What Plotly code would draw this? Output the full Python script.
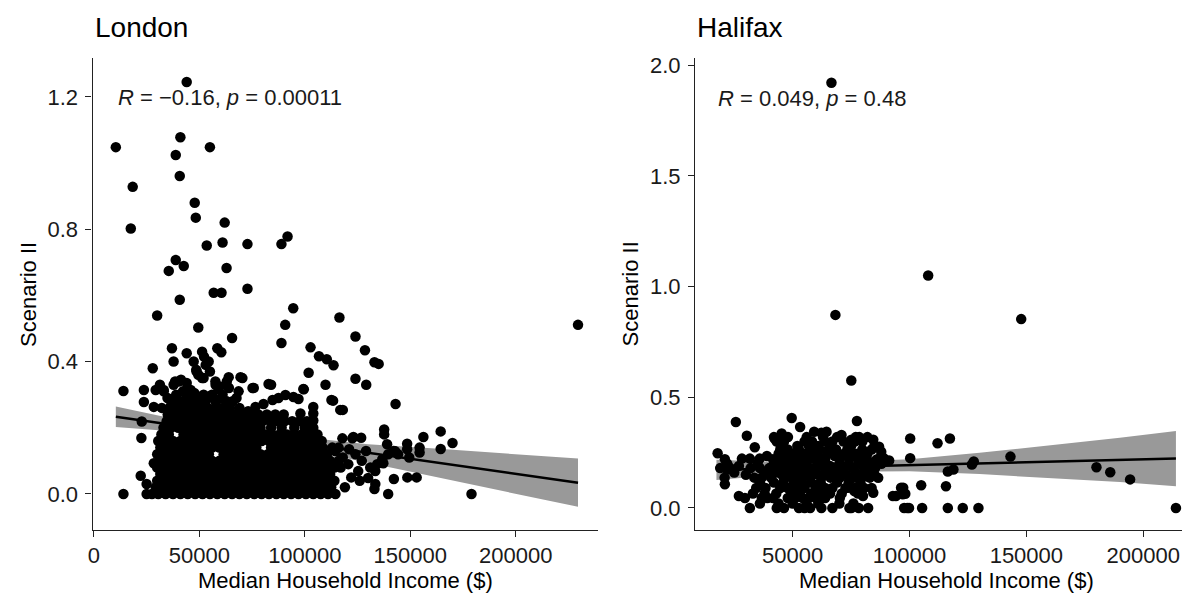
import plotly.graph_objects as go

W, H = 1182, 596

# ---------------- London data ----------------
# sparse / outlying points (income $, Scenario II)
lon_sparse = [
    (44000, 1.245), (10400, 1.048), (41000, 1.078), (55000, 1.048), (38800, 1.024), (40700, 0.961),
    (18400, 0.928), (47800, 0.880), (48300, 0.835), (62000, 0.820), (17500, 0.802), (53500, 0.751),
    (61000, 0.760), (72800, 0.755), (88900, 0.755), (91800, 0.778), (38800, 0.707), (42600, 0.689),
    (35500, 0.674), (62900, 0.683), (56800, 0.608), (60500, 0.608), (72800, 0.620), (40700, 0.587),
    (30000, 0.539), (94500, 0.561), (49500, 0.503), (90700, 0.511), (116400, 0.533), (229500, 0.511),
    (65500, 0.471), (88900, 0.456), (124000, 0.476), (102700, 0.443), (128500, 0.434), (106700, 0.416),
    (110400, 0.407), (113600, 0.389), (133000, 0.398), (135000, 0.393), (101800, 0.366), (124000, 0.348),
    (129100, 0.330), (109800, 0.330), (99500, 0.316), (84000, 0.330), (75800, 0.320), (70400, 0.350),
    (143000, 0.272), (113400, 0.282), (118000, 0.254), (14000, 0.311), (164400, 0.189), (156200, 0.172),
    (170000, 0.154), (164400, 0.136), (154400, 0.140), (154400, 0.125), (148500, 0.152), (148500, 0.135),
    (149500, 0.110), (142200, 0.130), (137600, 0.195), (137600, 0.180), (142200, 0.045), (148600, 0.050),
    (153000, 0.050), (139500, 0.0), (179000, 0.0), (133000, 0.015), (14000, 0.0), (22500, 0.169),
    (22200, 0.055), (23700, 0.278), (23700, 0.314), (22700, 0.219), (28400, 0.263), (25000, 0.030),
    (28400, 0.093),
]
# upper part of the main cloud
lon_upper = [
    (37000, 0.44), (44000, 0.425), (51300, 0.43), (52200, 0.415), (58500, 0.44), (60400, 0.428),
    (37800, 0.40), (47300, 0.40), (54400, 0.40), (27900, 0.38), (48700, 0.37), (52000, 0.35),
    (40200, 0.34), (37800, 0.33), (63900, 0.353), (69500, 0.353), (57700, 0.33), (59100, 0.317),
    (29300, 0.314), (33100, 0.314), (45900, 0.314), (68600, 0.31), (31300, 0.33), (33100, 0.31),
    (34900, 0.29), (36700, 0.27), (32200, 0.26), (38500, 0.34), (41300, 0.345), (44000, 0.335),
    (48500, 0.375), (49500, 0.36), (51300, 0.35), (53000, 0.39), (55000, 0.37), (57600, 0.34),
    (59500, 0.325), (63000, 0.34), (64000, 0.32), (42200, 0.31), (44000, 0.295), (47600, 0.305),
    (51300, 0.29), (54900, 0.295), (57600, 0.28), (60400, 0.29), (65800, 0.28), (67600, 0.29),
    (73100, 0.25), (76600, 0.263), (80400, 0.272), (84700, 0.284), (87500, 0.29), (90800, 0.299),
    (94600, 0.293), (97000, 0.287), (75200, 0.32), (82800, 0.332), (99300, 0.317), (104000, 0.263),
    (104000, 0.243), (104000, 0.222), (97900, 0.243), (112600, 0.284), (116800, 0.254),
]
# right-hand edge of the cloud
lon_right = [
    (117800, 0.168), (122500, 0.168), (114500, 0.129), (120600, 0.090), (125300, 0.069), (130000, 0.048),
    (133400, 0.030), (118000, 0.110), (121000, 0.135), (124000, 0.120), (127000, 0.100), (129000, 0.130),
    (131000, 0.080), (126000, 0.040), (122000, 0.050), (119000, 0.020), (116000, 0.140), (123000, 0.172),
    (126700, 0.170), (139000, 0.150), (142800, 0.129), (139500, 0.120), (144200, 0.120), (136700, 0.105),
    (134300, 0.090), (137200, 0.093), (133400, 0.069),
]
# dense core: rows of (Scenario II, incomes in $ thousands)
lon_core_rows = [
    (0.000, [25, 27.5, 30.5, 34, 37.5, 41, 44.5, 48, 51.5, 55, 58.5, 62, 65.5, 69, 72.5, 76, 79.5, 83, 86.5, 90, 93.5, 97, 100.5, 104, 107.5, 111, 114.5]),
    (0.020, [29.3, 32, 35.5, 39, 42.5, 46, 49.5, 53, 56.5, 60, 63.5, 67, 70.5, 74, 77.5, 81, 84.5, 88, 91.5, 95, 98.5, 102, 105.5, 109, 112.5]),
    (0.040, [30, 33.5, 37, 40.5, 44, 47.5, 51, 54.5, 58, 61.5, 65, 68.5, 72, 75.5, 79, 82.5, 86, 89.5, 93, 96.5, 100, 103.5, 107, 110.5, 114]),
    (0.060, [31.5, 35, 38.5, 42, 45.5, 49, 52.5, 56, 59.5, 63, 66.5, 70, 73.5, 77, 80.5, 84, 87.5, 91, 94.5, 98, 101.5, 105, 108.5, 112]),
    (0.080, [30, 33.5, 37, 40.5, 44, 47.5, 51, 54.5, 58, 61.5, 65, 68.5, 72, 75.5, 79, 82.5, 86, 89.5, 93, 96.5, 100, 103.5, 107, 110.5, 114, 117]),
    (0.100, [31.5, 35, 38.5, 42, 45.5, 49, 52.5, 56, 59.5, 63, 66.5, 70, 73.5, 77, 80.5, 84, 87.5, 91, 94.5, 98, 101.5, 105, 108.5, 112, 116]),
    (0.120, [30, 33.5, 37, 40.5, 44, 47.5, 51, 54.5, 61.5, 65, 68.5, 72, 75.5, 79, 82.5, 86, 89.5, 93, 96.5, 100, 103.5, 107, 110.5]),
    (0.140, [31.5, 35, 38.5, 42, 45.5, 49, 52.5, 56, 59.5, 63, 66.5, 70, 73.5, 77, 84, 87.5, 91, 94.5, 98, 101.5, 105, 108.5, 113]),
    (0.160, [30.5, 34, 37.5, 41, 44.5, 48, 51.5, 55, 58.5, 62, 65.5, 69, 72.5, 76, 79.5, 83, 86.5, 90, 93.5, 97, 100.5, 104, 108]),
    (0.180, [32, 35.5, 42.5, 46, 49.5, 53, 56.5, 60, 63.5, 67, 70.5, 74, 77.5, 81, 84.5, 88, 91.5, 95, 98.5, 102, 106]),
    (0.200, [33, 36.5, 40, 43.5, 47, 50.5, 54, 57.5, 61, 64.5, 68, 71.5, 75, 79, 84, 89, 95, 100, 104]),
    (0.220, [34.5, 38, 41.5, 45, 48.5, 52, 55.5, 59, 62.5, 66, 69.5, 73, 76.5, 80, 83.5, 87, 90.5, 94, 97.5, 101]),
    (0.240, [35, 38.5, 42, 45.5, 49, 52.5, 56, 59.5, 63, 66.5, 70, 74, 78, 82, 86, 90]),
    (0.260, [36, 40, 43.5, 47, 50.5, 54, 57.5, 61, 64.5, 69]),
    (0.280, [37, 41, 45, 49, 53, 58, 63]),
    (0.300, [39, 44, 48, 52, 56, 61]),
]
# regression line and 95% band
lon_fit_x = [10400, 40000, 70000, 100000, 130000, 160000, 190000, 229500]
lon_fit_y = [0.233, 0.206, 0.179, 0.152, 0.124, 0.097, 0.070, 0.034]
lon_lo = [0.202, 0.188, 0.167, 0.134, 0.095, 0.054, 0.014, -0.039]
lon_hi = [0.264, 0.224, 0.191, 0.170, 0.150, 0.138, 0.124, 0.107]

# ---------------- Halifax data ----------------
hal_sparse = [
    (66600, 1.92), (108000, 1.05), (68300, 0.872), (147800, 0.853), (75100, 0.576), (77500, 0.393),
    (49600, 0.406), (53200, 0.366), (25700, 0.388), (30400, 0.326), (33800, 0.274), (17900, 0.247),
    (21000, 0.220), (100300, 0.314), (100300, 0.225), (112000, 0.292), (117300, 0.314), (127500, 0.210),
    (126700, 0.196), (143200, 0.232), (180000, 0.184), (185900, 0.161), (194400, 0.129), (214000, 0.0),
    (116400, 0.165), (118800, 0.174), (115600, 0.098), (105000, 0.103), (97300, 0.091), (98200, 0.064),
    (94200, 0.054), (99000, 0.0), (99800, 0.0), (105400, 0.0), (116400, 0.0), (122800, 0.0),
    (129500, 0.0), (86600, 0.136), (84500, 0.069), (82300, 0.0), (78300, 0.0), (75100, 0.0),
    (70900, 0.330), (75100, 0.308), (78500, 0.320), (84500, 0.308), (87000, 0.277), (87900, 0.254),
    (91300, 0.214), (89200, 0.223), (84900, 0.210), (75900, 0.136), (81600, 0.143), (73700, 0.091),
    (76400, 0.076), (79400, 0.085), (80100, 0.054), (74300, 0.0), (92900, 0.054), (96400, 0.091),
    (97100, 0.062), (97700, 0.0), (45300, 0.336), (42300, 0.314), (59200, 0.344), (64500, 0.344),
    (28300, 0.223), (31700, 0.223), (35900, 0.223), (19000, 0.180), (22000, 0.174), (21000, 0.107),
    (27000, 0.054), (29600, 0.045), (31700, 0.0), (62300, 0.340),
]
hal_core_rows = [
    (0.000, [43.2, 46.3, 52.7, 55.1, 57.5, 62.3, 67.0]),
    (0.020, [36.0, 44.0, 50.0, 56.0, 61.0, 70.0, 76.0]),
    (0.045, [36.8, 39.2, 41.6, 47.9, 51.1, 54.3, 56.7, 59.9, 63.9, 70.2]),
    (0.065, [33.0, 38.0, 43.0, 49.5, 53.0, 58.0, 62.0, 66.0, 71.0, 78.0]),
    (0.090, [34.4, 38.4, 44.7, 47.9, 51.1, 55.1, 59.9, 63.9, 67.0, 72.6, 76.6, 80.6, 83.8]),
    (0.115, [36.0, 42.0, 46.0, 50.5, 54.0, 58.0, 62.0, 69.0, 74.0, 79.0]),
    (0.137, [20.9, 33.6, 36.8, 40.8, 46.3, 49.5, 52.7, 57.5, 62.3, 66.2, 70.2, 74.2, 78.2, 83.0]),
    (0.150, [30.0, 41.0, 45.5, 51.0, 55.5, 61.0, 67.0, 73.0, 79.5, 85.0]),
    (0.160, [25.0, 38.0, 43.5, 48.0, 53.0, 58.5, 64.0, 70.0, 77.0, 82.0]),
    (0.180, [23.3, 32.0, 36.0, 40.0, 43.2, 47.1, 51.1, 55.1, 59.1, 63.9, 67.8, 71.8, 75.8, 80.6, 85.3]),
    (0.190, [27.0, 45.5, 53.0, 61.0, 66.0, 73.0, 82.0]),
    (0.200, [22.0, 35.0, 42.0, 50.0, 56.0, 62.0, 70.0, 78.0, 84.0, 88.0]),
    (0.220, [41.6, 45.5, 48.7, 52.7, 56.7, 59.9, 63.9, 70.2, 74.2, 78.2, 81.4, 86.1]),
    (0.235, [39.0, 47.0, 53.5, 61.0, 68.0, 75.0, 80.0, 88.0]),
    (0.245, [44.0, 50.0, 55.0, 58.0, 65.0, 72.0, 77.0, 82.0]),
    (0.264, [44.7, 47.9, 52.7, 57.5, 61.5, 65.4, 68.6, 73.4, 79.8, 83.8]),
    (0.280, [45.0, 52.0, 57.0, 61.0, 66.0, 75.0, 85.0]),
    (0.300, [43.2, 46.3, 55.1, 58.3, 63.9, 67.0, 71.8, 76.6, 79.8]),
    (0.320, [42.0, 48.0, 56.0, 63.0, 69.0, 77.0, 82.0]),
]
hal_fit_x = [17400, 50000, 70000, 100000, 130000, 160000, 190000, 214000]
hal_fit_y = [0.172, 0.180, 0.186, 0.193, 0.201, 0.209, 0.217, 0.223]
hal_lo = [0.126, 0.155, 0.164, 0.166, 0.153, 0.135, 0.117, 0.098]
hal_hi = [0.218, 0.205, 0.208, 0.220, 0.249, 0.283, 0.317, 0.348]

# tick labels
lon_xticks = [0, 50000, 100000, 150000, 200000]
lon_xtext = ["0", "50000", "100000", "150000", "200000"]
lon_yticks = [0.0, 0.4, 0.8, 1.2]
lon_ytext = ["0.0", "0.4", "0.8", "1.2"]
hal_xticks = [50000, 100000, 150000, 200000]
hal_xtext = ["50000", "100000", "150000", "200000"]
hal_yticks = [0.0, 0.5, 1.0, 1.5, 2.0]
hal_ytext = ["0.0", "0.5", "1.0", "1.5", "2.0"]


def collect(sparse_lists, rows):
    xs, ys = [], []
    for lst in sparse_lists:
        for x, y in lst:
            xs.append(x)
            ys.append(y)
    for y, xk in rows:
        for v in xk:
            xs.append(v * 1000)
            ys.append(y)
    return xs, ys


lon_x, lon_y = collect([lon_sparse, lon_upper, lon_right], lon_core_rows)
hal_x, hal_y = collect([hal_sparse], hal_core_rows)

FONT = "Liberation Sans, Arial, sans-serif"
BAND = "#999999"
MS = 10.5

fig = go.Figure()
for (fx, fy, lo, hi, px, py, xa, ya) in [
    (lon_fit_x, lon_fit_y, lon_lo, lon_hi, lon_x, lon_y, "x", "y"),
    (hal_fit_x, hal_fit_y, hal_lo, hal_hi, hal_x, hal_y, "x2", "y2"),
]:
    fig.add_trace(go.Scatter(x=fx + fx[::-1], y=hi + lo[::-1], fill="toself", fillcolor=BAND,
                             mode="lines", line=dict(width=0, color=BAND), hoverinfo="skip",
                             showlegend=False, xaxis=xa, yaxis=ya))
    fig.add_trace(go.Scatter(x=fx, y=fy, mode="lines", line=dict(color="black", width=2.5),
                             showlegend=False, xaxis=xa, yaxis=ya))
    fig.add_trace(go.Scatter(x=px, y=py, mode="markers",
                             marker=dict(color="black", size=MS, line=dict(width=0)),
                             showlegend=False, xaxis=xa, yaxis=ya))

ydom = [1 - 529 / H, 1 - 53 / H]
axis_common = dict(showline=True, linecolor="#222222", linewidth=1.3, ticks="outside", ticklen=6,
                   tickwidth=1.3, tickcolor="#222222", showgrid=False, zeroline=False,
                   tickfont=dict(family=FONT, size=22, color="#1a1a1a"), tickmode="array")

fig.update_layout(
    width=W, height=H, margin=dict(l=0, r=0, t=0, b=0),
    paper_bgcolor="white", plot_bgcolor="white", showlegend=False,
    xaxis=dict(domain=[88 / W, 596 / W], range=[-600, 239200], anchor="y",
               tickvals=lon_xticks, ticktext=lon_xtext, **axis_common),
    yaxis=dict(domain=ydom, range=[-0.108, 1.316], anchor="x", ticklabelstandoff=3,
               tickvals=lon_yticks, ticktext=lon_ytext, **axis_common),
    xaxis2=dict(domain=[693 / W, 1.0], range=[8250, 216600], anchor="y2",
                tickvals=hal_xticks, ticktext=hal_xtext, **axis_common),
    yaxis2=dict(domain=ydom, range=[-0.098, 2.03], anchor="x2", ticklabelstandoff=3,
                tickvals=hal_yticks, ticktext=hal_ytext, **axis_common),
)

ann = []
# panel titles
ann.append(dict(text="London", x=88 / W, y=1 - 22 / H, xref="paper", yref="paper",
                xanchor="left", yanchor="middle", showarrow=False,
                font=dict(family=FONT, size=28, color="black")))
ann.append(dict(text="Halifax", x=693 / W, y=1 - 22 / H, xref="paper", yref="paper",
                xanchor="left", yanchor="middle", showarrow=False,
                font=dict(family=FONT, size=28, color="black")))
# correlation labels
ann.append(dict(text="<i>R</i> = \u22120.16, <i>p</i> = 0.00011", x=lon_fit_x[0], y=1.198,
                xref="x", yref="y", xanchor="left", yanchor="middle", showarrow=False,
                font=dict(family=FONT, size=22, color="#1a1a1a")))
ann.append(dict(text="<i>R</i> = 0.049, <i>p</i> = 0.48", x=hal_fit_x[0], y=1.85,
                xref="x2", yref="y2", xanchor="left", yanchor="middle", showarrow=False,
                font=dict(family=FONT, size=22, color="#1a1a1a")))
# axis titles
for cx in (342, 946):
    ann.append(dict(text="Median Household Income ($)", x=cx / W, y=1 - 580 / H, xref="paper",
                    yref="paper", xanchor="center", yanchor="middle", showarrow=False,
                    font=dict(family=FONT, size=22, color="black")))
for cx in (23, 628):
    ann.append(dict(text="Scenario II", x=cx / W, y=1 - 291 / H, xref="paper", yref="paper",
                    xanchor="center", yanchor="middle", textangle=-90, showarrow=False,
                    font=dict(family=FONT, size=22, color="black")))
fig.update_layout(annotations=ann)

fig.write_html("out.html")
